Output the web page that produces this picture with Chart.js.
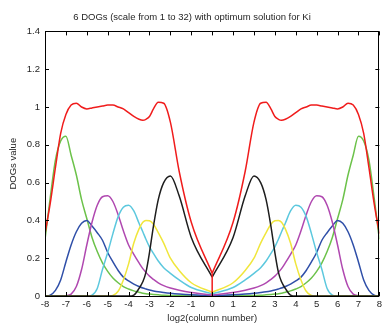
<!DOCTYPE html>
<html>
<head>
<meta charset="utf-8">
<script src="https://cdn.jsdelivr.net/npm/chart.js@4"></script>
<style>
  html, body { margin: 0; padding: 0; background: #fff; }
  #wrap { width: 385px; height: 325px; }
</style>
</head>
<body>
<div id="wrap"><canvas id="dogChart" width="385" height="325"></canvas></div>
<script>
// x positions: log2(column number), mirrored left/right
const xs = [-8, -7.75, -7.5, -7.25, -7, -6.75, -6.5, -6.25, -6, -5.75, -5.5, -5.25, -5, -4.75, -4.5, -4.25,
  -4, -3.75, -3.5, -3.32, -3.17, -3, -2.81, -2.58, -2.32, -2, -1.58, -1, 0,
  1, 1.58, 2, 2.32, 2.58, 2.81, 3, 3.17, 3.32, 3.5, 3.75, 4, 4.25, 4.5, 4.75, 5, 5.25, 5.5, 5.75,
  6, 6.25, 6.5, 6.75, 7, 7.25, 7.5, 7.75, 8];

// red (sum) has an extra drop to 0 at x = 0
const xsRed = [-8, -7.75, -7.5, -7.25, -7, -6.75, -6.5, -6.25, -6, -5.75, -5.5, -5.25, -5, -4.75, -4.5, -4.25,
  -4, -3.75, -3.5, -3.32, -3.17, -3, -2.81, -2.58, -2.32, -2, -1.58, -1, 0, 0, 0,
  1, 1.58, 2, 2.32, 2.58, 2.81, 3, 3.17, 3.32, 3.5, 3.75, 4, 4.25, 4.5, 4.75, 5, 5.25, 5.5, 5.75,
  6, 6.25, 6.5, 6.75, 7, 7.25, 7.5, 7.75, 8];

const sumDog = [0.33, 0.49, 0.68, 0.86, 0.96, 1.01, 1.02, 1.0, 0.99, 0.995, 1.0, 1.005, 1.01, 1.01, 1.0, 0.99,
  0.97, 0.95, 0.935, 0.93, 0.935, 0.95, 0.99, 1.025, 1.02, 0.92, 0.66, 0.39, 0.12, 0, 0.12,
  0.39, 0.66, 0.92, 1.02, 1.025, 0.99, 0.95, 0.935, 0.93, 0.935, 0.95, 0.97, 0.99, 1.0, 1.01, 1.01, 1.005, 1.0, 0.995,
  0.99, 1.0, 1.02, 1.01, 0.96, 0.86, 0.68, 0.49, 0.33];

const dog1 = [0.30, 0.52, 0.72, 0.82, 0.845, 0.745, 0.64, 0.51, 0.41, 0.31, 0.235, 0.175, 0.13, 0.095, 0.07, 0.05,
  0.037, 0.027, 0.02, 0.015, 0.012, 0.01, 0.008, 0.006, 0.004, 0.003, 0.002, 0.001, 0,
  0.001, 0.002, 0.003, 0.004, 0.006, 0.008, 0.01, 0.012, 0.015, 0.02, 0.027, 0.037, 0.05, 0.07, 0.095, 0.13, 0.175, 0.235, 0.31,
  0.41, 0.51, 0.64, 0.745, 0.845, 0.82, 0.72, 0.52, 0.30];

const dog2 = [0, 0.005, 0.03, 0.085, 0.18, 0.27, 0.34, 0.385, 0.40, 0.37, 0.335, 0.295, 0.23, 0.18, 0.135, 0.10,
  0.08, 0.063, 0.05, 0.042, 0.037, 0.032, 0.027, 0.022, 0.018, 0.014, 0.01, 0.006, 0.002,
  0.006, 0.01, 0.014, 0.018, 0.022, 0.027, 0.032, 0.037, 0.042, 0.05, 0.063, 0.08, 0.10, 0.135, 0.18, 0.23, 0.295, 0.335, 0.37,
  0.40, 0.385, 0.34, 0.27, 0.18, 0.085, 0.03, 0.005, 0];

const dog3 = [0, 0, 0, 0, 0.002, 0.01, 0.05, 0.14, 0.27, 0.39, 0.48, 0.525, 0.53, 0.50, 0.43, 0.345,
  0.27, 0.22, 0.175, 0.145, 0.125, 0.105, 0.088, 0.07, 0.055, 0.042, 0.03, 0.018, 0.005,
  0.018, 0.03, 0.042, 0.055, 0.07, 0.088, 0.105, 0.125, 0.145, 0.175, 0.22, 0.27, 0.345, 0.43, 0.50, 0.53, 0.525, 0.48, 0.39,
  0.27, 0.14, 0.05, 0.01, 0.002, 0, 0, 0, 0];

const dog4 = [0, 0, 0, 0, 0, 0, 0, 0, 0, 0.005, 0.04, 0.14, 0.23, 0.33, 0.42, 0.47,
  0.48, 0.45, 0.385, 0.34, 0.30, 0.26, 0.225, 0.185, 0.15, 0.12, 0.085, 0.045, 0.012,
  0.045, 0.085, 0.12, 0.15, 0.185, 0.225, 0.26, 0.30, 0.34, 0.385, 0.45, 0.48, 0.47, 0.42, 0.33, 0.23, 0.14, 0.04, 0.005,
  0, 0, 0, 0, 0, 0, 0, 0, 0];

const dog5 = [0, 0, 0, 0, 0, 0, 0, 0, 0, 0, 0, 0, 0, 0.003, 0.025, 0.085,
  0.17, 0.28, 0.355, 0.39, 0.40, 0.398, 0.38, 0.335, 0.28, 0.20, 0.135, 0.07, 0.02,
  0.07, 0.135, 0.20, 0.28, 0.335, 0.38, 0.398, 0.40, 0.39, 0.355, 0.28, 0.17, 0.085, 0.025, 0.003, 0, 0, 0, 0,
  0, 0, 0, 0, 0, 0, 0, 0, 0];

const dog6 = [0, 0, 0, 0, 0, 0, 0, 0, 0, 0, 0, 0, 0, 0, 0, 0,
  0, 0.005, 0.04, 0.075, 0.125, 0.23, 0.37, 0.51, 0.60, 0.635, 0.53, 0.31, 0.10,
  0.31, 0.53, 0.635, 0.60, 0.51, 0.37, 0.23, 0.125, 0.075, 0.04, 0.005, 0, 0, 0, 0, 0, 0, 0, 0,
  0, 0, 0, 0, 0, 0, 0, 0, 0];

const xTicks = [-8, -7, -6, -5, -4, -3, -2, -1, 0, 1, 2, 3, 4, 5, 6, 7, 8];
const yTicks = [0, 0.2, 0.4, 0.6, 0.8, 1, 1.2, 1.4];

const FONT = "'Liberation Sans', Arial, Helvetica, sans-serif";
const FSIZE = 9.5;
const TEXT = "#262626";
const MID = 28; // index of x = 0 in xs

function points(xv, yv, from, to) {
  const out = [];
  for (let i = from; i <= to; i++) out.push({ x: xv[i], y: yv[i] });
  return out;
}

function line(data, color, straight) {
  return {
    data: data,
    borderColor: color,
    backgroundColor: color,
    borderWidth: 1.5,
    pointRadius: 0,
    fill: false,
    tension: 0,
    cubicInterpolationMode: straight ? "default" : "monotone"
  };
}

// each curve is drawn as a left and a right half so the kink at 0 stays sharp
function halves(yv, color) {
  return [
    line(points(xs, yv, 0, MID), color),
    line(points(xs, yv, MID, xs.length - 1), color)
  ];
}

// matlab-like box with inward ticks on all four sides
const boxTicks = {
  id: "boxTicks",
  afterDraw(chart) {
    const ctx = chart.ctx;
    const a = chart.chartArea;
    const sx = chart.scales.x;
    const sy = chart.scales.y;
    const len = 4;
    ctx.save();
    ctx.strokeStyle = "#000";
    ctx.lineWidth = 1;
    ctx.beginPath();
    xTicks.forEach(v => {
      const px = Math.round(sx.getPixelForValue(v)) + 0.5;
      ctx.moveTo(px, a.bottom);
      ctx.lineTo(px, a.bottom - len);
      ctx.moveTo(px, a.top);
      ctx.lineTo(px, a.top + len);
    });
    yTicks.forEach(v => {
      const py = Math.round(sy.getPixelForValue(v)) + 0.5;
      ctx.moveTo(a.left, py);
      ctx.lineTo(a.left + len, py);
      ctx.moveTo(a.right, py);
      ctx.lineTo(a.right - len, py);
    });
    ctx.stroke();
    ctx.strokeRect(Math.round(a.left) + 0.5, Math.round(a.top) + 0.5,
      Math.round(a.right - a.left) - 1, Math.round(a.bottom - a.top));
    ctx.restore();
  }
};

const RED = "#f01c1c";
const redLast = xsRed.length - 1;

const datasets = [
  line(points(xsRed, sumDog, 0, MID), RED),
  line(points(xsRed, sumDog, MID, MID + 2), RED, true),
  line(points(xsRed, sumDog, MID + 2, redLast), RED),
  ...halves(dog6, "#1e1e1e"),
  ...halves(dog5, "#f0e63c"),
  ...halves(dog4, "#5cc8de"),
  ...halves(dog3, "#b048b0"),
  ...halves(dog2, "#2f4fa8"),
  ...halves(dog1, "#6cc24a")
];

const ctx = document.getElementById("dogChart").getContext("2d");

new Chart(ctx, {
  type: "line",
  data: { datasets },
  options: {
    responsive: false,
    animation: false,
    devicePixelRatio: 1,
    layout: {
      padding: { left: 0, right: 1, top: 0, bottom: 0 }
    },
    plugins: {
      legend: { display: false },
      tooltip: { enabled: false },
      title: {
        display: true,
        text: "6 DOGs (scale from 1 to 32) with optimum solution for Ki",
        color: TEXT,
        font: { family: FONT, size: FSIZE, weight: "normal", lineHeight: 1.2 },
        padding: { top: 12, bottom: 8 }
      }
    },
    scales: {
      x: {
        type: "linear",
        min: -8,
        max: 8,
        afterFit: s => { s.height = 29; },
        afterBuildTicks: s => { s.ticks = xTicks.map(v => ({ value: v })); },
        grid: { display: false, drawTicks: false },
        border: { display: false },
        ticks: {
          color: TEXT,
          font: { family: FONT, size: FSIZE },
          padding: 3,
          maxRotation: 0,
          autoSkip: false
        },
        title: {
          display: true,
          text: "log2(column number)",
          color: TEXT,
          font: { family: FONT, size: FSIZE },
          padding: { top: 0, bottom: 1 }
        }
      },
      y: {
        min: 0,
        max: 1.4,
        afterFit: s => { s.width = 45; },
        afterBuildTicks: s => { s.ticks = yTicks.map(v => ({ value: v })); },
        grid: { display: false, drawTicks: false },
        border: { display: false },
        ticks: {
          color: TEXT,
          font: { family: FONT, size: FSIZE },
          padding: 5,
          callback: v => String(+v.toFixed(1))
        },
        title: {
          display: true,
          text: "DOGs value",
          color: TEXT,
          font: { family: FONT, size: FSIZE },
          padding: { top: 8, bottom: 0 }
        }
      }
    }
  },
  plugins: [boxTicks]
});
</script>
</body>
</html>
